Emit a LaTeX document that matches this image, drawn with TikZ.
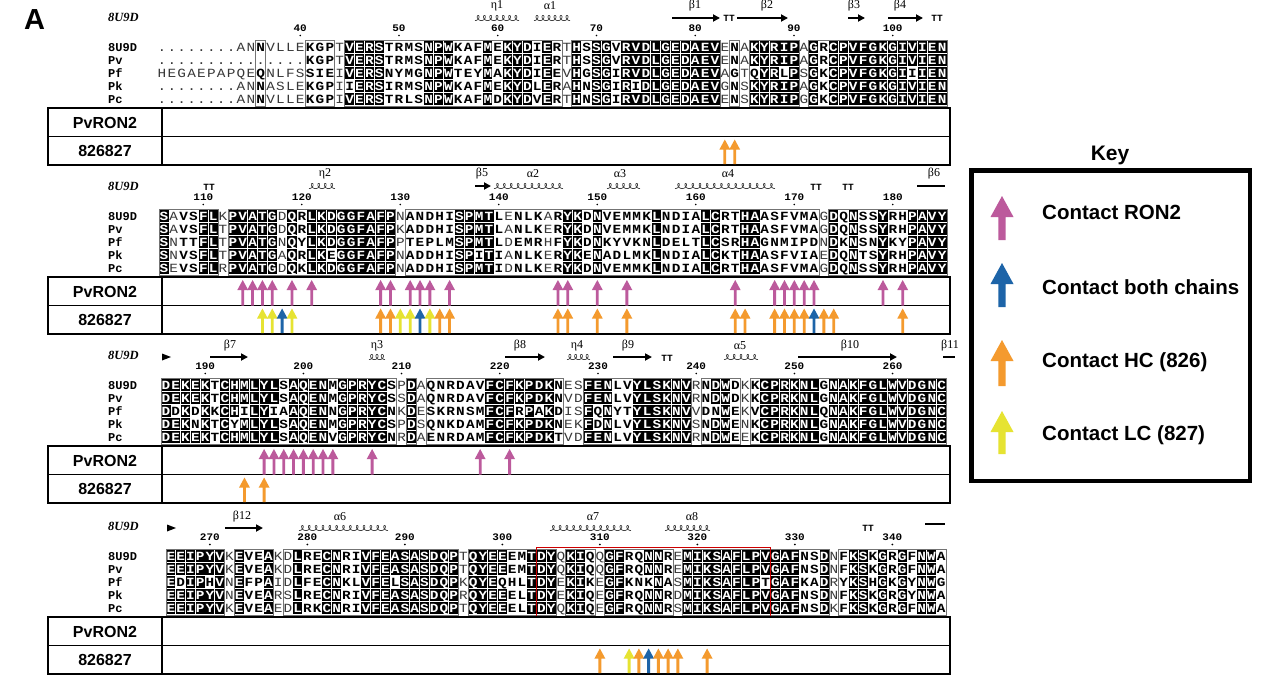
\documentclass[tikz,border=0pt]{standalone}
\usepackage{fontspec}
\setmainfont{Liberation Sans}
\newfontfamily\seqfont{Liberation Mono}
\newfontfamily\grk{Liberation Serif}
\usetikzlibrary{arrows.meta}
\ExplSyntaxOn
\cs_new:Npn \alnitem #1#2 { \str_item:Nn #1 {#2} }
\ExplSyntaxOff
\definecolor{cmag}{HTML}{BC5A9C}
\definecolor{corg}{HTML}{F49A2E}
\definecolor{cyel}{HTML}{E6E332}
\definecolor{cblu}{HTML}{1D64A8}
\tikzset{
  seqbase/.style={inner sep=0pt, anchor=base, xscale=1.15, font=\seqfont\fontsize{12.5}{12.5}\selectfont},
  seqn/.style={seqbase, text=black!78},
  seqb/.style={seqbase, font=\seqfont\bfseries\fontsize{12.5}{12.5}\selectfont, text=black},
  seqw/.style={seqb, text=white},
  hdr/.style={inner sep=0pt, anchor=base west, font=\grk\bfseries\itshape\fontsize{12.5}{12.5}\selectfont},
  numf/.style={inner sep=0pt, anchor=base, xscale=1.1, font=\seqfont\bfseries\fontsize{10}{10}\selectfont},
  rowlab/.style={inner sep=0pt, anchor=base west, font=\seqfont\bfseries\fontsize{12}{12}\selectfont},
  tlab/.style={inner sep=0pt, font=\bfseries\fontsize{16}{16}\selectfont},
  ssl/.style={inner sep=0pt, font=\grk\fontsize{12}{12}\selectfont},
  ttf/.style={inner sep=0pt, font=\seqfont\bfseries\fontsize{9.5}{9.5}\selectfont},
  framebox/.style={draw=black!55, line width=0.7pt},
  ssline/.style={draw=black!75, line width=0.7pt},
  keytext/.style={inner sep=0pt, anchor=west, font=\bfseries\fontsize{20.5}{20.5}\selectfont},
}
% one alignment block: #1 header y, #2 x0, #3 column step, #4 id
\newcommand\alnblock[4]{%
  \gdef\runstart{}%
  \foreach \i in {1,...,80}{%
    \edef\cc{\alnitem\codes{\i}}%
    \edef\rf{\alnitem\sqa{\i}}%
    \pgfmathsetmacro\xc{#2+(\i-0.5)*#3}%
    \if\cc N%
      \ifx\runstart\empty\else
        \pgfmathsetmacro\fxa{#2+(\runstart-1)*#3}%
        \pgfmathsetmacro\fxb{#2+(\i-1)*#3}%
        \draw[framebox] (\fxa,#1+23) rectangle (\fxb,#1+89);%
        \gdef\runstart{}%
      \fi
    \else
      \ifx\runstart\empty\xdef\runstart{\i}\fi
    \fi
    \foreach \rr/\rw in {0/\sqa,1/\sqb,2/\sqc,3/\sqd,4/\sqe}{%
      \edef\ch{\expandafter\alnitem\rw{\i}}%
      \pgfmathsetmacro\yc{#1+30+13*\rr}%
      \def\sty{0}%
      \if\cc B\def\sty{2}\fi
      \if\cc F\def\sty{1}\fi
      \if\cc M\if\ch\rf\def\sty{2}\else\def\sty{1}\fi\fi
      \if\ch.\def\sty{0}\fi
      \ifnum\sty=2
        \fill[black] (\xc-#3/2+0.3,\yc-6.3) rectangle (\xc+#3/2-0.3,\yc+6.3);%
        \node[seqw] (s#4-\rr-\i) at (\xc,\yc+4.4) {\ch};%
      \else\ifnum\sty=1
        \node[seqb] (s#4-\rr-\i) at (\xc,\yc+4.4) {\ch};%
      \else
        \node[seqn] (s#4-\rr-\i) at (\xc,\yc+4.4) {\ch};%
      \fi\fi
    }%
  }%
  \ifx\runstart\empty\else
    \pgfmathsetmacro\fxa{#2+(\runstart-1)*#3}%
    \pgfmathsetmacro\fxb{#2+80*#3}%
    \draw[framebox] (\fxa,#1+23) rectangle (\fxb,#1+89);%
  \fi
}
% header: #1 H, #2 x0, #3 step, #4 first col, #5 first number, #6 kmax, #7 id
\newcommand\blockhead[7]{%
  \node[hdr] (hd#7) at (108,#1+4) {8U9D};
  \foreach \k in {0,...,#6}{%
    \pgfmathsetmacro\nx{#2+(#4+10*\k+0.5)*#3}%
    \pgfmathtruncatemacro\nn{#5+10*\k}%
    \node[numf] (n#7-\k) at (\nx,#1+14.5) {\nn};
    \fill (\nx,#1+18.5) circle (0.9);
  }
  \foreach \rr/\lab in {0/8U9D,1/Pv,2/Pf,3/Pk,4/Pc}{%
    \node[rowlab] (r#7-\rr) at (108,#1+34.4+13*\rr) {\lab};
  }
}
\newcommand\ctable[2]{%
  \draw[line width=2pt] (48,#1) rectangle (950,#1+57);
  \draw[line width=1.6pt] (48,#1+28.5) -- (950,#1+28.5);
  \draw[line width=1.6pt] (162,#1) -- (162,#1+57);
  \node[tlab] (ta#2) at (105,#1+14.5) {PvRON2};
  \node[tlab] (tb#2) at (105,#1+43) {826827};
}
\newcommand\carr[4]{%
  \fill[#4] (#1-1.4,#2) -- (#1-1.4,#3+10) -- (#1-5.4,#3+10) -- (#1,#3) -- (#1+5.4,#3+10) -- (#1+1.4,#3+10) -- (#1+1.4,#2) -- cycle;}
\newcommand\colarr[6]{\pgfmathsetmacro\ax{#1+(#3+0.5)*#2}\carr{\ax}{#4}{#5}{#6}}
\newcommand\karr[4]{%
  \fill[#4] (#1-3.6,#2) -- (#1-3.6,#3+21) -- (#1-11.5,#3+21) -- (#1,#3) -- (#1+11.5,#3+21) -- (#1+3.6,#3+21) -- (#1+3.6,#2) -- cycle;}
\newcommand\coil[3]{%
  \pgfmathtruncatemacro\nl{max(1,round((#2-#1)/7.2))}%
  \pgfmathsetmacro\pp{(#2-#1-4)/\nl}%
  \pgfmathsetmacro\de{\nl*360}%
  \pgfmathtruncatemacro\ns{\nl*20+1}%
  \draw[ssline] plot[domain=0:\de, samples=\ns, smooth, variable=\t] ({#1+2+\pp*(\t/360)+2.3*sin(\t)}, {#3+2.6*cos(\t)});
}
\newcommand\strand[3]{\draw[line width=1.8pt,-{Triangle[length=7pt,width=7pt]}] (#1,#3) -- (#2,#3);}
\newcommand\sbar[3]{\draw[line width=2pt] (#1,#3) -- (#2,#3);}
\newcommand\stri[2]{\fill (#1,#2-3.5) -- (#1+9,#2) -- (#1,#2+3.5) -- cycle;}
\begin{document}
\begin{tikzpicture}[x=1pt,y=-1pt]
\useasboundingbox (0,0) rectangle (1266,691);
\fill[white] (0,0) rectangle (1266,691);
\node[inner sep=0pt, anchor=base west, font=\bfseries\fontsize{29}{29}\selectfont] (lblA) at (24,29) {A};

% ---------------- block 1
\def\codes{NNNNNNNNNNFNNNNFFFNMBBBFFFFBBBFFFBFBBBFBFNBFBBFBMBBBBBBBBNFNMBBMBNBFBBBBBBBBMBBB}
\def\sqa{........ANNVLLEKGPTVERSTRMSNPWKAFMEKYDIERTHSSGVRVDLGEDAEVENAKYRIPAGRCPVFGKGIVIEN}
\def\sqb{...............KGPTVERSTRMSNPWKAFMEKYDIERTHSSGVRVDLGEDAEVENAKYRIPAGRCPVFGKGIVIEN}
\def\sqc{HEGAEPAPQEQNLFSSIEIVERSNYMGNPWTEYMAKYDIEEVHGSGIRVDLGEDAEVAGTQYRLPSGKCPVFGKGIIIEN}
\def\sqd{........ANNASLEKGPIIERSIRMSNPWKAFMEKYDLERAHNSGIRIDLGEDAEVGNSKYRIPAGKCPVFGKGIVIEN}
\def\sqe{........ANNVLLEKGPIVERSTRLSNPWKAFMDKYDVERTHNSGIRVDLGEDAEVENSKYRIPGGKCPVFGKGIVIEN}
\blockhead{17}{157}{9.875}{14}{40}{6}{1}
\alnblock{17}{157}{9.875}{1}
\coil{473}{521}{18}\node[ssl] (ss1a) at (497,6) {η1};
\coil{532}{572}{18}\node[ssl] (ss1b) at (550,6) {α1};
\strand{672}{720}{18}\node[ssl] (ss1c) at (695,6) {β1};
\node[ttf] (tt1a) at (729,18) {TT};
\strand{737}{788}{18}\node[ssl] (ss1d) at (767,6) {β2};
\strand{848}{865}{18}\node[ssl] (ss1e) at (854,6) {β3};
\strand{888}{923}{18}\node[ssl] (ss1f) at (900,6) {β4};
\node[ttf] (tt1b) at (937,18) {TT};
\ctable{108}{1}
\foreach \c/\cl in {57/corg,58/corg}{\colarr{157}{9.875}{\c}{164}{139.5}{\cl}}

% ---------------- block 2
\def\codes{BfFFBBNBBBBBfBFBBMBBBBBBNFFFFFBBMBFfFFFfFBBFBFFFFFBFFFFBBFFBBFFFFFFNBFBFFBFFBBBB}
\def\sqa{SAVSFLKPVATGDQRLKDGGFAFPNANDHISPMTLENLKARYKDNVEMMKLNDIALCRTHAASFVMAGDQNSSYRHPAVY}
\def\sqb{SAVSFLTPVATGDQRLKDGGFAFPKADDHISPMTLANLKERYKDNVEMMKLNDIALCRTHAASFVMAGDQNSSYRHPAVY}
\def\sqc{SNTTFLTPVATGNQYLKDGGFAFPPTEPLMSPMTLDEMRHFYKDNKYVKNLDELTLCSRHAGNMIPDNDKNSNYKYPAVY}
\def\sqd{SNVSFLTPVATGAQRLKEGGFAFPNADDHISPITIANLKERYKENADLMKLNDIALCKTHAASFVIAEDQNTSYRHPAVY}
\def\sqe{SEVSFLRPVATGDQKLKDGGFAFPNADDHISPMTIDNLKERYKDNVEMMKLNDIALCRTHAASFVMAGDQNSSYRHPAVY}
\blockhead{186}{159}{9.85}{4}{110}{7}{2}
\alnblock{186}{159}{9.85}{2}
\node[ttf] (tt2a) at (209,187) {TT};
\coil{307}{337}{186}\node[ssl] (ss2a) at (325,174) {η2};
\strand{475}{491}{186}\node[ssl] (ss2b) at (482,174) {β5};
\coil{492}{565}{186}\node[ssl] (ss2c) at (533,174) {α2};
\coil{605}{642}{186}\node[ssl] (ss2d) at (620,174) {α3};
\coil{673}{777}{186}\node[ssl] (ss2e) at (728,174) {α4};
\node[ttf] (tt2b) at (816,187) {TT};
\node[ttf] (tt2c) at (848,187) {TT};
\sbar{917}{945}{186}\node[ssl] (ss2f) at (934,174) {β6};
\ctable{277}{2}
\foreach \c in {8,9,10,11,13,15,22,23,25,26,27,29,40,41,44,47,58,62,63,64,65,66,73,75}{\colarr{159}{9.85}{\c}{305.5}{280}{cmag}}
\foreach \c/\cl in {10/cyel,11/cyel,12/cblu,13/cyel,22/corg,23/corg,24/cyel,25/cyel,26/cblu,27/cyel,28/corg,29/corg,40/corg,41/corg,44/corg,47/corg,58/corg,59/corg,62/corg,63/corg,64/corg,65/corg,66/cblu,67/corg,68/corg,75/corg}{\colarr{159}{9.85}{\c}{333}{308.5}{\cl}}

% ---------------- block 3
\def\codes{BMBMBFBMMBBMFBBBBFBBBBBFNBNFFFFFFBBBMBMBFNNBMBFFBBBBBBNFMBFNFBBBBBBFBBBBBBBBBBBB}
\def\sqa{DEKEKTCHMLYLSAQENMGPRYCSPDAQNRDAVFCFKPDKNESFENLVYLSKNVRNDWDKKCPRKNLGNAKFGLWVDGNC}
\def\sqb{DEKEKTCHMLYLSAQENMGPRYCSSDAQNRDAVFCFKPDKNVDFENLVYLSKNVRNDWDKKCPRKNLGNAKFGLWVDGNC}
\def\sqc{DDKDKKCHILYIAAQENNGPRYCNKDESKRNSMFCFRPAKDISFQNYTYLSKNVVDNWEKVCPRKNLQNAKFGLWVDGNC}
\def\sqd{DEKNKTCYMLYLSAQENMGPRYCSPDSQNKDAMFCFKPDKNEKFDNLVYLSKNVSNDWENKCPRKNLGNAKFGLWVDGNC}
\def\sqe{DEKEKTCHMLYLSAQENVGPRYCNRDAENRDAMFCFKPDKTVDFENLVYLSKNVRNDWEEKCPRKNLGNAKFGLWVDGNC}
\blockhead{355}{161}{9.82}{4}{190}{7}{3}
\alnblock{355}{161}{9.82}{3}
\stri{162}{357}
\strand{210}{248}{357}\node[ssl] (ss3a) at (230,346) {β7};
\coil{367}{387}{357}\node[ssl] (ss3b) at (377,346) {η3};
\strand{505}{545}{357}\node[ssl] (ss3c) at (520,346) {β8};
\coil{565}{592}{357}\node[ssl] (ss3d) at (577,346) {η4};
\strand{613}{652}{357}\node[ssl] (ss3e) at (628,346) {β9};
\node[ttf] (tt3a) at (667,358) {TT};
\coil{722}{760}{357}\node[ssl] (ss3f) at (740,346) {α5};
\strand{798}{897}{357}\node[ssl] (ss3g) at (850,346) {β10};
\sbar{943}{955}{357}\node[ssl] (ss3h) at (950,346) {β11};
\ctable{446}{3}
\foreach \c in {10,11,12,13,14,15,16,17,21,32,35}{\colarr{161}{9.82}{\c}{474.5}{449}{cmag}}
\foreach \c in {8,10}{\colarr{161}{9.82}{\c}{502}{477.5}{corg}}

% ---------------- block 4
\def\codes{BMBBMBNBFFBNfBFFBBFFBBBMBBBBBBNBBBMFFBBBNBBFNBBFFMBFNBBBBBBBBMBBBFFBNFBBFBFBFBBF}
\def\sqa{EEIPYVKEVEAKDLRECNRIVFEASASDQPTQYEEEMTDYQKIQQGFRQNNREMIKSAFLPVGAFNSDNFKSKGRGFNWA}
\def\sqb{EEIPYVKEVEAKDLRECNRIVFEASASDQPTQYEEEMTDYQKIQQGFRQNNREMIKSAFLPVGAFNSDNFKSKGRGFNWA}
\def\sqc{EDIPHVNEFPAIDLFECNKLVFELSASDQPKQYEQHLTDYEKIKEGFKNKNASMIKSAFLPTGAFKADRYKSHGKGYNWG}
\def\sqd{EEIPYVNEVEARSLRECNRIVFEASASDQPRQYEEELTDYEKIQEGFRQNNRDMIKSAFLPVGAFNSDNFKSKGRGYNWA}
\def\sqe{EEIPYVKEVEAEDLRKCNRIVFEASASDQPTQYEEELTDYQKIQEGFRQNNRSMIKSAFLPVGAFNSDKFKSKGRGFNWA}
\blockhead{526}{166}{9.75}{4}{270}{7}{4}
\alnblock{526}{166}{9.75}{4}
\stri{167}{528}
\strand{225}{263}{528}\node[ssl] (ss4a) at (242,517) {β12};
\coil{297}{390}{528}\node[ssl] (ss4b) at (340,517) {α6};
\coil{548}{633}{528}\node[ssl] (ss4c) at (593,517) {α7};
\coil{663}{712}{528}\node[ssl] (ss4d) at (692,517) {α8};
\node[ttf] (tt4a) at (868,528) {TT};
\sbar{925}{945}{524}
\draw[red!80!black, line width=0.9pt] (536.5,547) rectangle (770.5,616);
\ctable{617}{4}
\foreach \c/\cl in {44/corg,47/cyel,48/corg,49/cblu,50/corg,51/corg,52/corg,55/corg}{\colarr{166}{9.75}{\c}{673}{648.5}{\cl}}

% ---------------- key
\node[inner sep=0pt, font=\bfseries\fontsize{21}{21}\selectfont] (keyt) at (1110,155) {Key};
\draw[line width=4.5pt] (971.25,170.25) rectangle (1249.75,480.75);
\karr{1002}{240}{196}{cmag}
\node[keytext] (k1) at (1042,212) {Contact RON2};
\karr{1002}{307}{263}{cblu}
\node[keytext] (k2) at (1042,287) {Contact both chains};
\karr{1002}{386}{340}{corg}
\node[keytext] (k3) at (1042,362) {Contact HC (826)};
\karr{1002}{454}{411}{cyel}
\node[keytext] (k4) at (1042,435) {Contact LC (827)};
\end{tikzpicture}
\end{document}
